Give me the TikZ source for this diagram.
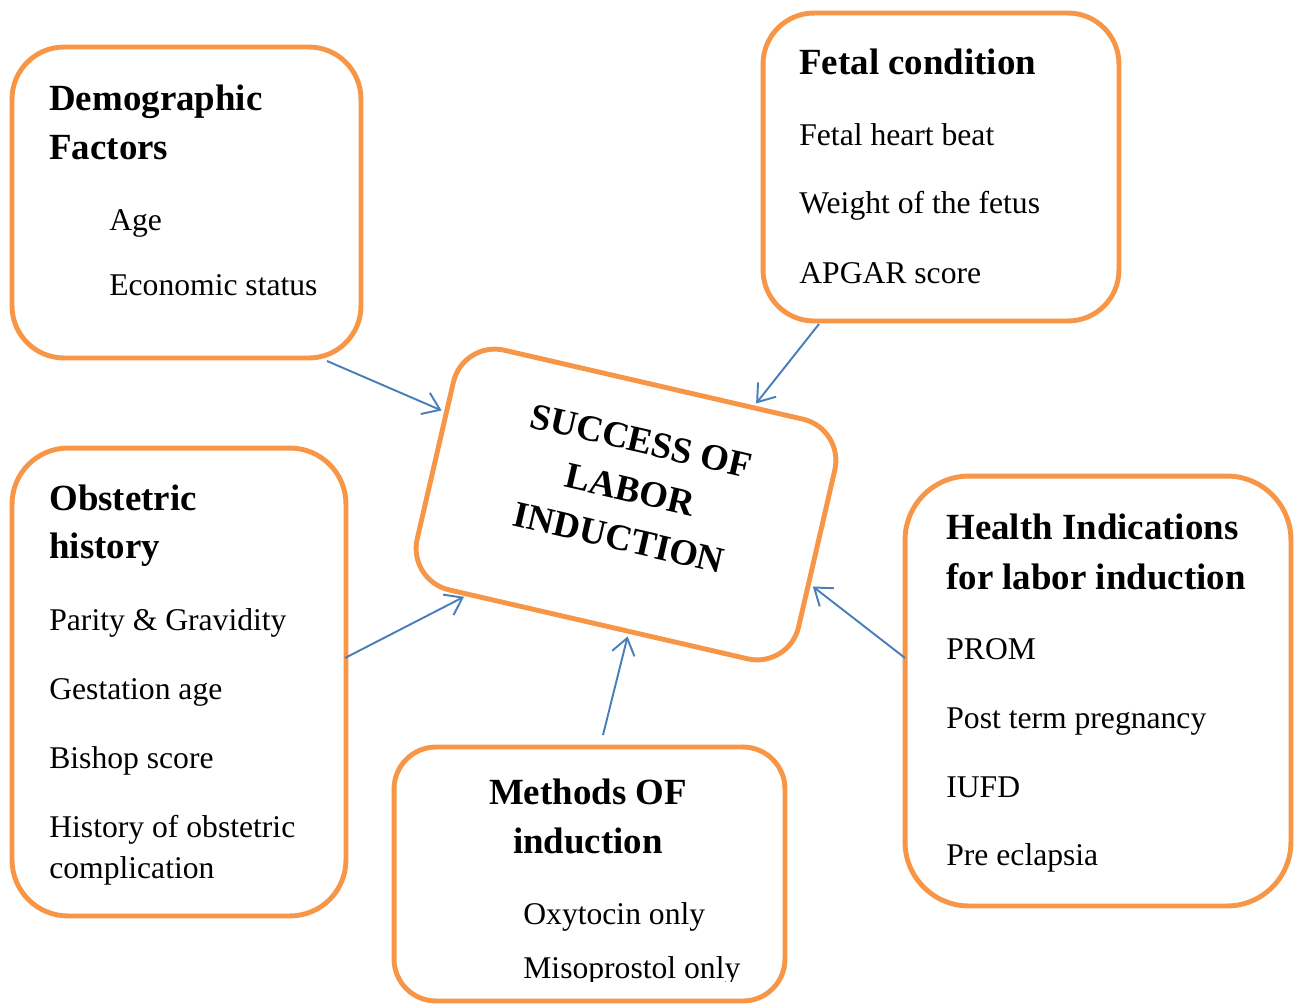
\documentclass[tikz,border=0pt]{standalone}
\usepackage{fontspec}
\setmainfont{Liberation Serif}
\usetikzlibrary{arrows.meta, calc}
\definecolor{corange}{HTML}{F79646}
\definecolor{cblue}{HTML}{4A7EBB}
\tikzset{
  card/.style={draw=corange, fill=white, line width=2.8pt, rounded corners=#1, inner sep=0pt, outer sep=0pt},
  card/.default=1cm,
  head/.style={font=\fontsize{21}{25}\selectfont\bfseries, anchor=base west, inner sep=0pt},
  item/.style={font=\fontsize{18}{22}\selectfont, anchor=base west, inner sep=0pt},
  arrow/.style={-{Straight Barb[length=3.2mm, width=4.6mm]}, draw=cblue, line width=1.1pt, shorten >=3pt},
}

\begin{document}
\begin{tikzpicture}[x=0.02cm, y=-0.02cm]
  \useasboundingbox (0,0) rectangle (1299,1005);
  % boxes
  \node[card=1.04cm, minimum width=6.98cm, minimum height=6.22cm] (demo) at (186.5,202.5) {};
  \node[card=1.02cm, minimum width=7.12cm, minimum height=6.16cm] (fetal) at (941,167) {};
  \node[card=1.12cm, minimum width=6.68cm, minimum height=9.36cm] (obst) at (179,682) {};
  \node[card=1.28cm, minimum width=7.72cm, minimum height=8.6cm] (health) at (1098,691) {};
  \node[card=0.84cm, minimum width=7.82cm, minimum height=5.08cm] (methods) at (589.5,874) {};
  \node[card=0.85cm, minimum width=7.83cm, minimum height=4.92cm, rotate=-13] (hub) at (626,504.5) {};
  \node[font=\fontsize{21}{28.3}\selectfont\bfseries, align=center, rotate=-13, inner sep=0pt] (hubtext)
    at ($(hub.center)+(4,-15)$) {SUCCESS OF\\ LABOR\\ INDUCTION};

  % texts
  \node[head] (demo1) at (49,110) {Demographic};
  \node[head] (demo2) at (49,159) {Factors};
  \node[item] (age) at (109,230) {Age};
  \node[item] (econ) at (109,295) {Economic status};

  \node[head] (fetal1) at (799,74) {Fetal condition};
  \node[item] (fhb) at (799,145) {Fetal heart beat};
  \node[item] (weight) at (799,213) {Weight of the fetus};
  \node[item] (apgar) at (799,283) {APGAR score};

  \node[head] (obst1) at (49,510) {Obstetric};
  \node[head] (obst2) at (49,558) {history};
  \node[item] (parity) at (49,630) {Parity \& Gravidity};
  \node[item] (gest) at (49,699) {Gestation age};
  \node[item] (bishop) at (49,768) {Bishop score};
  \node[item] (hist1) at (49,837) {History of obstetric};
  \node[item] (hist2) at (49,878) {complication};

  \node[head] (health1) at (946,539) {Health Indications};
  \node[head] (health2) at (946,589) {for labor induction};
  \node[item] (prom) at (946,659) {PROM};
  \node[item] (post) at (946,728) {Post term pregnancy};
  \node[item] (iufd) at (946,797) {IUFD};
  \node[item] (pre) at (946,865) {Pre eclapsia};

  \node[head, anchor=base] (meth1) at (588,804) {Methods OF};
  \node[head, anchor=base] (meth2) at (588,853) {induction};
  \node[item] (oxy) at (523,924) {Oxytocin only};
  \begin{scope}
    \clip (0,0) rectangle (1299,981);
    \node[item] (miso) at (523,978) {Misoprostol only};
  \end{scope}

  % arrows
  \draw[arrow] ($(demo.south east)+(-34,3)$) -- ($(hub.west)!0.4!(hub.north west)$);
  \draw[arrow] ($(fetal.south west)+(56,3)$) -- ($(hub.north)!0.52!(hub.north east)$);
  \draw[arrow] ($(obst.east)+(-1,-24)$) -- ($(hub.south west)!0.32!(hub.south)$);
  \draw[arrow] ($(methods.north)+(13.5,-12)$) -- ($(hub.south)!0.16!(hub.south east)$);
  \draw[arrow] ($(health.west)+(0,-33)$) -- ($(hub.east)!0.29!(hub.south east)$);
\end{tikzpicture}
\end{document}
